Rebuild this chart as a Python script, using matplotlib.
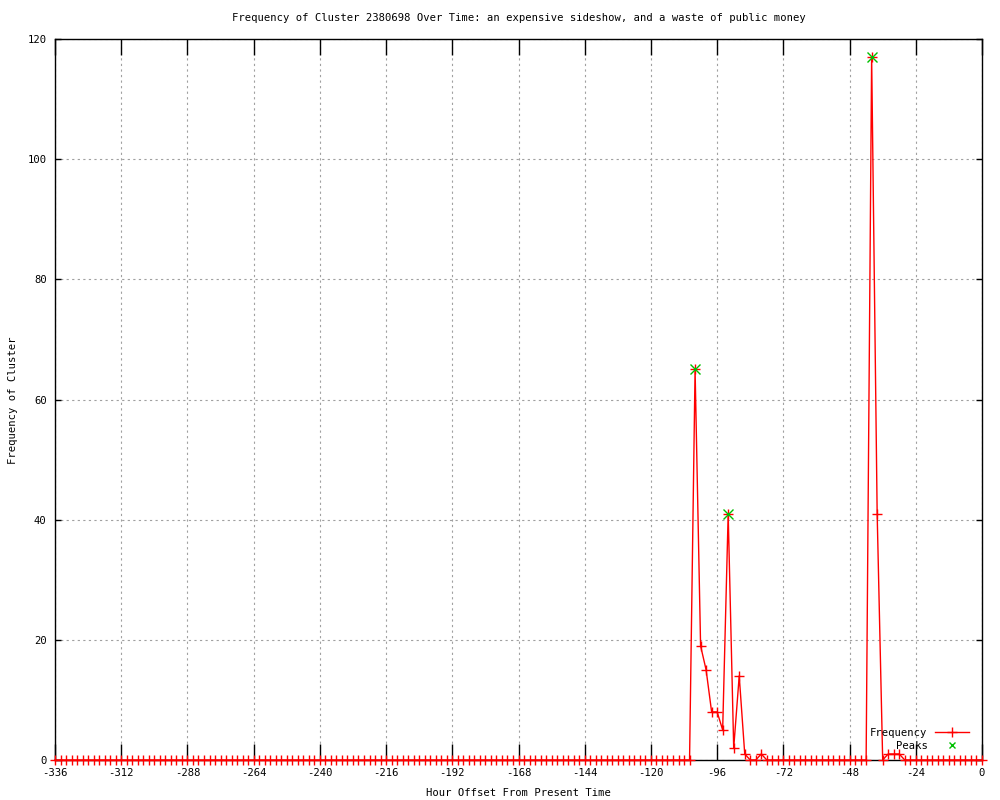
import matplotlib
matplotlib.use("Agg")
import matplotlib.pyplot as plt

# ---- data ----
hours = list(range(-336, 1, 2))
nonzero_freq = {
    -104: 65, -102: 19, -100: 15, -98: 8, -96: 8, -94: 5, -92: 41,
    -90: 2, -88: 14, -86: 1, -80: 1,
    -40: 117, -38: 41, -34: 1, -32: 1, -30: 1,
}
frequency = [nonzero_freq.get(h, 0) for h in hours]
peak_hours = [-104, -92, -40]
peak_values = [65, 41, 117]

x_ticks = list(range(-336, 1, 24))
y_ticks = list(range(0, 121, 20))

title = "Frequency of Cluster 2380698 Over Time: an expensive sideshow, and a waste of public money"
xlabel = "Hour Offset From Present Time"
ylabel = "Frequency of Cluster"

# ---- plot ----
FONT = "DejaVu Sans Mono"
FS = 7.6
plt.rcParams['font.family'] = [FONT]
plt.rcParams['axes.unicode_minus'] = False

fig = plt.figure(figsize=(10, 8), dpi=100)
ax = fig.add_axes([0.055, 0.05, 0.927, 0.90125])

ax.plot(hours, frequency, color='red', lw=1.0, marker='+', markersize=6.5,
        markeredgewidth=1.0, label='Frequency', zorder=3, clip_on=False)
ax.plot(peak_hours, peak_values, linestyle='none', color='#00c000', marker='x',
        markersize=6.5, markeredgewidth=1.0, label='Peaks', zorder=4, clip_on=False)

ax.set_xlim(-336, 0)
ax.set_ylim(0, 120)
ax.set_xticks(x_ticks)
ax.set_yticks(y_ticks)
ax.grid(True, color='#a0a0a0', linestyle=(0, (2, 3)), linewidth=0.8)
ax.set_axisbelow(True)
ax.tick_params(axis='x', direction='in', top=True, bottom=True, length=11.5, width=1,
               labelsize=FS, pad=6, colors='black')
ax.tick_params(axis='y', direction='in', left=True, right=True, length=4, width=1,
               labelsize=FS, pad=6, colors='black')
for s in ax.spines.values():
    s.set_linewidth(1.0)
    s.set_color('black')

fig.text(0.5185, 1 - 18 / 800, title, ha='center', va='center', fontsize=FS)
fig.text(0.5185, 1 - 793 / 800, xlabel, ha='center', va='center', fontsize=FS)
fig.text(13 / 1000, 0.5, ylabel, ha='center', va='center', rotation=90, fontsize=FS)

leg = ax.legend(loc='lower right', bbox_to_anchor=(974 / 1000, (800 - 756) / 800),
                bbox_transform=fig.transFigure, frameon=False, markerfirst=False,
                fontsize=FS, handlelength=3.2, borderpad=0, labelspacing=0.3,
                handletextpad=0.7)
for t in leg.get_texts():
    t.set_ha('right')
leg.legend_handles[1].set_markersize(5)

fig.savefig("out.png", dpi=100)
